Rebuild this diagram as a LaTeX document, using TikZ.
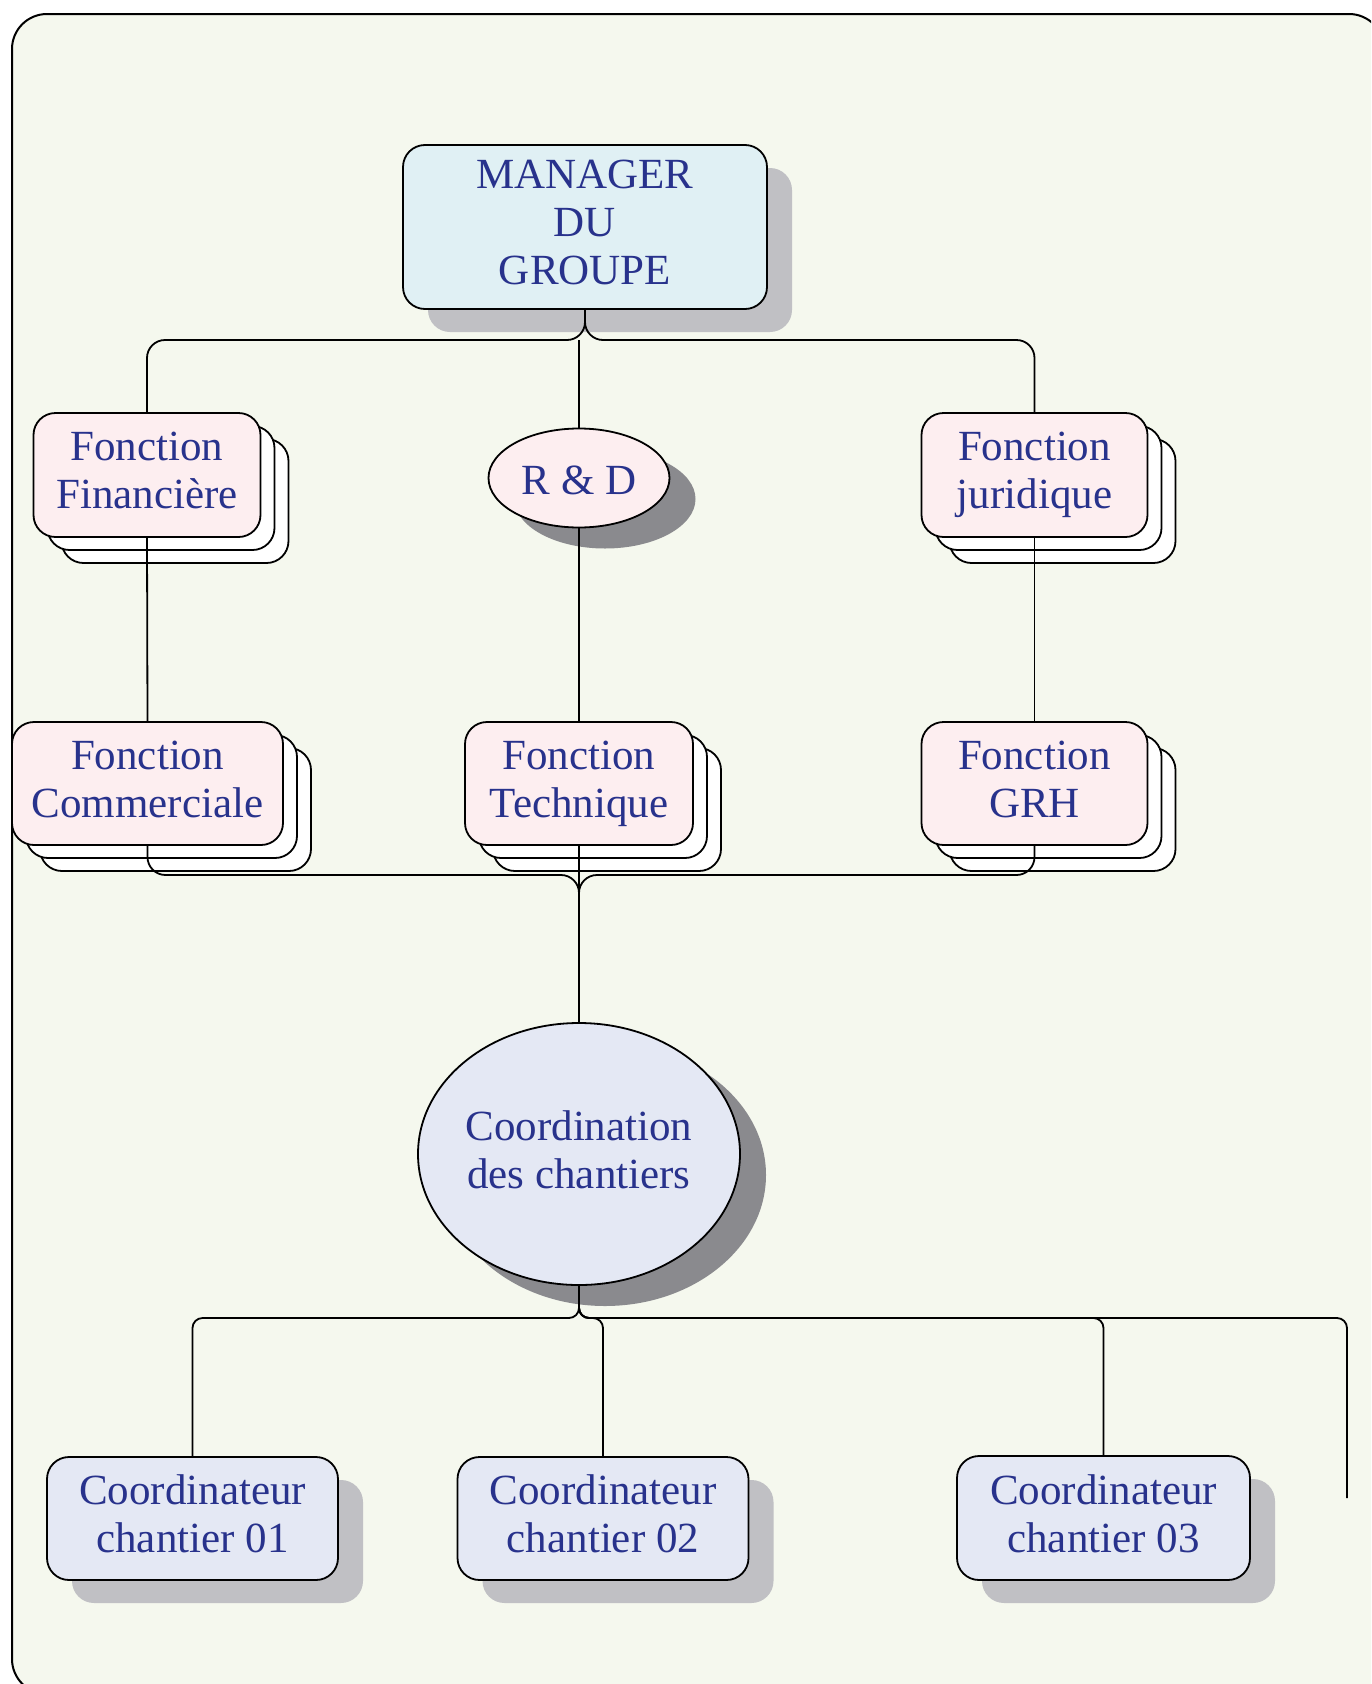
\documentclass[tikz,border=0pt]{standalone}
\usepackage{fontspec}
\setmainfont{Liberation Serif}
\usetikzlibrary{shapes.geometric,shadows}

\definecolor{framebg}{RGB}{245,248,238}
\definecolor{mgrfill}{RGB}{224,240,244}
\definecolor{pinkfill}{RGB}{253,238,240}
\definecolor{lavfill}{RGB}{228,232,244}
\definecolor{lightshade}{RGB}{192,192,196}
\definecolor{darkshade}{RGB}{138,138,142}
\definecolor{labelblue}{RGB}{40,50,140}

\tikzset{
    conn/.style={line width=1.8pt, black},
    boxbase/.style={draw=black, line width=1.8pt, inner sep=0pt, align=center,
        text=labelblue, font=\fontsize{43}{48}\selectfont,
        execute at begin node=\rule{0pt}{41pt}, execute at end node=\rule[-9pt]{0pt}{9pt}},
    shadebox/.style={boxbase, rectangle, rounded corners=22pt,
        drop shadow={shadow xshift=25pt, shadow yshift=-23pt, fill=lightshade, opacity=1}},
    stackbox/.style={boxbase, rectangle, rounded corners=22pt, fill=pinkfill,
        general shadow={shadow xshift=28pt, shadow yshift=-26pt, fill=white, draw=black},
        general shadow={shadow xshift=14pt, shadow yshift=-13pt, fill=white, draw=black}},
    shadeoval/.style={boxbase, ellipse,
        drop shadow={shadow xshift=26pt, shadow yshift=-21pt, fill=darkshade, opacity=1}},
}

\begin{document}
\begin{tikzpicture}[x=1pt,y=-1pt]
        \useasboundingbox (0,0) rectangle (1371,1684);
        \clip (0,0) rectangle (1371,1684);

        %Frame
        \draw[line width=2pt, fill=framebg, rounded corners=35pt] (12,14) rectangle (1384,1694);

        %Manager
        \node (mgr) at (585,227) [shadebox, fill=mgrfill, minimum width=364pt, minimum height=164pt] {MANAGER\\DU\\GROUPE};

        %First row
        \node (fin) at (147,475) [stackbox, minimum width=227pt, minimum height=124pt] {Fonction\\Financière};
        \node (rd) at (579,478) [shadeoval, fill=pinkfill, minimum width=181pt, minimum height=99pt] {R \& D};
        \node (jur) at (1034.5,475) [stackbox, minimum width=226pt, minimum height=124pt] {Fonction\\juridique};

        %Second row
        \node (com) at (147.5,783.5) [stackbox, minimum width=271pt, minimum height=123pt] {Fonction\\Commerciale};
        \node (tech) at (579,783.5) [stackbox, minimum width=228pt, minimum height=123pt] {Fonction\\Technique};
        \node (grh) at (1034.5,783.5) [stackbox, minimum width=226pt, minimum height=123pt] {Fonction\\GRH};

        %Coordination
        \node (coord) at (579,1154) [shadeoval, fill=lavfill, minimum width=322pt, minimum height=262pt] {Coordination\\des chantiers};

        %Coordinateurs
        \node (c1) at (192.5,1518.5) [shadebox, fill=lavfill, minimum width=291pt, minimum height=123pt] {Coordinateur\\chantier 01};
        \node (c2) at (603,1518.5) [shadebox, fill=lavfill, minimum width=291pt, minimum height=123pt] {Coordinateur\\chantier 02};
        \node (c3) at (1103.5,1518) [shadebox, fill=lavfill, minimum width=293pt, minimum height=124pt] {Coordinateur\\chantier 03};

        %Bus points
        \coordinate (bus1) at (585,340);
        \coordinate (bus2) at (579,875);
        \coordinate (bus3) at (579,1318);
        \coordinate (tail) at (1347,1498);

        %Top connectors
        \draw[conn, rounded corners=18pt] (mgr.south) -- (bus1) -| (fin.north);
        \draw[conn, rounded corners=18pt] (mgr.south) -- (bus1) -| (jur.north);
        \draw[conn] (rd.north |- bus1) -- (rd.north);

        %Column connectors
        \draw[conn] (fin.south) -- (com.north);
        \draw[conn] (rd.south) -- (tech.north);
        \draw[conn] (jur.south) -- (grh.north);

        %Middle bus
        \draw[conn, rounded corners=18pt] (com.south) |- (bus2) -- (coord.north);
        \draw[conn, rounded corners=18pt] (grh.south) |- (bus2) -- (coord.north);
        \draw[conn] (tech.south) -- (coord.north);

        %Bottom bus
        \draw[conn, rounded corners=10pt] (coord.south) -- (bus3) -| (c1.north);
        \draw[conn, rounded corners=10pt] (coord.south) -- (bus3) -| (c2.north);
        \draw[conn, rounded corners=10pt] (coord.south) -- (bus3) -| (c3.north);
        \draw[conn, rounded corners=10pt] (coord.south) -- (bus3) -| (tail);
\end{tikzpicture}
\end{document}
